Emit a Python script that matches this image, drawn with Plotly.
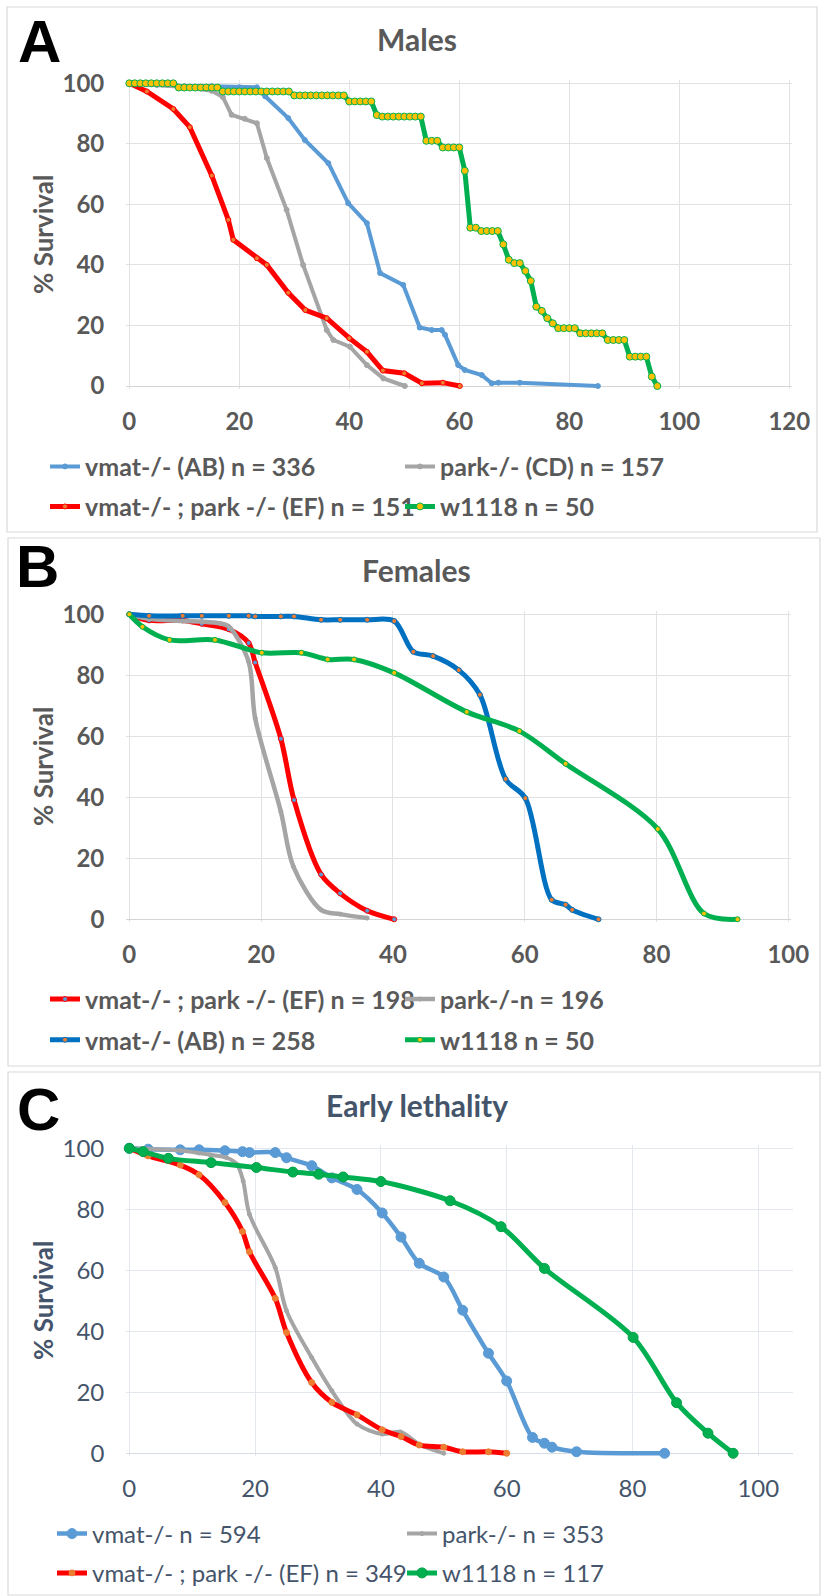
import plotly.graph_objects as go

W, H = 824, 1596
PAD = 3.0

# ---------------- tick labels ----------------
A_XTICKS = [0, 20, 40, 60, 80, 100, 120]
B_XTICKS = [0, 20, 40, 60, 80, 100]
C_XTICKS = [0, 20, 40, 60, 80, 100]
YTICKS = [0, 20, 40, 60, 80, 100]

# ---------------- panel A : Males ----------------
A_vmat_x = [0, 5, 10, 15, 20, 23.2, 24.7, 28.9, 31.9, 36.2, 39.8, 43.2, 45.6, 49.8, 52.8, 55.0, 56.8, 57.4, 59.8, 61.0, 64.1, 65.9, 67.1, 71.0, 85.2]
A_vmat_y = [100, 99.5, 99, 99, 98.7, 98.7, 95.7, 88.5, 81.3, 73.6, 60.4, 53.8, 37.3, 33.4, 19.3, 18.5, 18.5, 16.9, 6.9, 5.3, 3.6, 0.9, 1.1, 1.1, 0]

A_park_x = [0, 5, 10, 15, 17, 18.6, 21, 23.2, 25.0, 28.6, 31.6, 35.9, 37.1, 40.1, 43.2, 46.2, 50.1]
A_park_y = [100, 99.5, 98.8, 97.5, 95.5, 89.6, 88.3, 86.8, 75.3, 58.2, 40.0, 18.5, 15.2, 13.0, 6.9, 2.5, 0]

A_ef_x = [0, 3.2, 8.0, 11.0, 15.0, 18.0, 18.9, 23.2, 25.0, 28.9, 32.0, 35.9, 40.0, 43.2, 46.1, 50.0, 53.2, 57.0, 60.1]
A_ef_y = [100, 97.3, 91.5, 85.5, 69.5, 54.9, 48.3, 42.2, 40.0, 30.8, 25.1, 22.4, 15.8, 11.3, 5.1, 4.2, 0.9, 1.1, 0]

A_w_x = [0, 1, 2, 3, 4, 5, 6, 7, 8, 9, 10, 11, 12, 13, 14, 15, 16, 17, 18, 19,
         20, 21, 22, 23, 24, 25, 26, 27, 28, 29, 30, 31, 32, 33, 34, 35, 36, 37, 38, 39,
         40, 41, 42, 43, 44, 45, 46, 47, 48, 49, 50, 51, 52, 53, 54, 55, 56, 57, 58, 59,
         60, 61, 62, 63, 64, 65, 66, 67, 68, 69, 70, 71, 72, 73, 74, 75, 76, 77, 78, 79,
         80, 81, 82, 83, 84, 85, 86, 87, 88, 89, 90, 91, 92, 93, 94, 95, 96]
A_w_y = [100, 100, 100, 100, 100, 100, 100, 100, 100,
         98.6, 98.6, 98.6, 98.6, 98.6, 98.6, 98.6, 98.6,
         97.3, 97.3, 97.3, 97.3, 97.3, 97.3, 97.3, 97.3, 97.3, 97.3, 97.3, 97.3, 97.3,
         96.0, 96.0, 96.0, 96.0, 96.0, 96.0, 96.0, 96.0, 96.0, 96.0,
         94.0, 94.0, 94.0, 94.0, 94.0,
         89.5,
         89.0, 89.0, 89.0, 89.0, 89.0, 89.0, 89.0, 89.0,
         81.0, 81.0, 81.0,
         78.8, 78.8, 78.8, 78.8,
         71.1,
         52.3, 52.3,
         51.2, 51.2, 51.2, 51.2,
         46.8, 41.7, 40.6, 40.6, 38.0, 34.7, 26.2, 24.8, 22.4, 20.7,
         19.1, 19.1, 19.1, 19.1,
         17.4, 17.4, 17.4, 17.4, 17.4,
         15.2, 15.2, 15.2, 15.2,
         9.7, 9.7, 9.7, 9.7,
         3.1, 0]

# ---------------- panel B : Females ----------------
B_ef_x = [0, 3.0, 8.1, 11.0, 15.1, 18.1, 19.1, 23.0, 25.0, 29.1, 32.0, 36.1, 40.2]
B_ef_y = [100, 98.0, 98.0, 96.9, 95.1, 90.6, 84.2, 59.2, 39.1, 14.7, 8.5, 2.8, 0]

B_park_x = [0, 3.0, 8.1, 11.0, 13.8, 15.1, 18.1, 19.1, 23.0, 24.9, 29.1, 32.0, 36.1]
B_park_y = [100, 98.5, 97.8, 97.6, 97.0, 96.0, 84.5, 65.9, 35.3, 17.3, 3.1, 1.7, 0.4]

B_vmat_x = [0, 3.0, 8.1, 11.0, 15.1, 18.1, 19.1, 23.0, 25.0, 29.1, 32.0, 36.1, 40.2, 43.1, 46.1, 50.0, 53.2, 57.1, 60.1, 64.1, 66.2, 67.2, 71.2]
B_vmat_y = [100, 99.5, 99.5, 99.5, 99.5, 99.5, 99.3, 99.3, 99.3, 98.2, 98.2, 98.2, 97.8, 87.7, 86.3, 81.7, 73.6, 46.0, 39.7, 6.4, 4.8, 3.1, 0]

B_w_x = [0, 2.0, 6.1, 13.0, 20.1, 26.1, 30.1, 34.1, 40.2, 51.2, 59.2, 66.2, 80.2, 87.2, 92.3]
B_w_y = [100, 95.9, 91.6, 91.6, 87.4, 87.4, 85.2, 85.2, 80.8, 68.0, 61.7, 51.0, 29.6, 1.9, 0]

# ---------------- panel C : Early lethality ----------------
C_vmat_x = [0, 3.0, 8.1, 11.1, 15.2, 18.0, 19.1, 23.2, 25.0, 29.0, 32.2, 36.2, 40.2, 43.2, 46.1, 50.0, 53.0, 57.1, 60.0, 64.1, 66.0, 67.2, 71.1, 85.1]
C_vmat_y = [100, 99.7, 99.5, 99.5, 99.2, 98.9, 98.6, 98.6, 96.9, 94.3, 90.3, 86.5, 78.8, 70.9, 62.3, 57.8, 46.9, 32.8, 23.7, 5.2, 3.3, 2.0, 0.5, 0]

C_park_x = [0, 3.0, 8.1, 12.8, 15.5, 17.1, 18.1, 19.1, 23.2, 25.0, 29.0, 32.2, 36.2, 40.2, 43.1, 46.3, 50.0]
C_park_y = [100, 99.8, 99.3, 97.9, 96.9, 94.8, 89.3, 78.4, 60.9, 46.7, 31.4, 20.5, 9.6, 6.3, 7.0, 2.7, 0]

C_ef_x = [0, 3.0, 8.1, 11.1, 15.2, 18.0, 19.1, 23.2, 25.0, 29.0, 32.2, 36.2, 40.2, 43.2, 46.1, 50.0, 53.0, 57.1, 60.0]
C_ef_y = [100, 97.5, 94.5, 91.3, 82.2, 72.7, 66.1, 50.8, 39.6, 23.2, 16.7, 12.6, 7.7, 5.5, 2.7, 2.0, 0.5, 0.5, 0]

C_w_x = [0, 2.2, 6.2, 13.0, 20.2, 26.0, 30.1, 34.0, 40.0, 51.0, 59.1, 66.0, 80.1, 87.0, 92.0, 96.0]
C_w_y = [100, 98.9, 96.7, 95.3, 93.7, 92.2, 91.5, 90.6, 89.1, 82.8, 74.3, 60.6, 38.0, 16.6, 6.6, 0]

# ---------------- styling ----------------
GREY_TXT = "#595959"
SLATE_TXT = "#44546A"
FONT = "Lato"

# pixel geometry: x0 = px of x=0, sx = px per unit, xr = range max, y0 = px of y=0, y100 = px of y=100
GEOM = {
    "A": dict(x0=129.3, sx=5.5, xr=120, y0=386.0, y100=83.3),
    "B": dict(x0=129.3, sx=6.59, xr=100, y0=919.3, y100=614.3),
    "C": dict(x0=129.3, sx=6.29, xr=105, y0=1453.3, y100=1148.3),
}
PANEL_STYLE = {
    "A": dict(txt=GREY_TXT, weight="bold", grid="#E2E2E2", zero="#D4D4D4", ticks=A_XTICKS, lsize=25),
    "B": dict(txt=GREY_TXT, weight="bold", grid="#E2E2E2", zero="#D4D4D4", ticks=B_XTICKS, lsize=25),
    "C": dict(txt=SLATE_TXT, weight="normal", grid="#E3E8EF", zero="#D6DCE5", ticks=C_XTICKS, lsize=24),
}


def fx(px):
    return px / W


def fy(py):
    return 1 - py / H


fig = go.Figure()
layout_axes = {}
for i, key in enumerate("ABC"):
    g = GEOM[key]
    st = PANEL_STYLE[key]
    sy = (g["y0"] - g["y100"]) / 100.0
    xname = "xaxis" if i == 0 else f"xaxis{i + 1}"
    yname = "yaxis" if i == 0 else f"yaxis{i + 1}"
    anchor_x = "x" if i == 0 else f"x{i + 1}"
    anchor_y = "y" if i == 0 else f"y{i + 1}"
    tickfont = dict(family=FONT, size=24, color=st["txt"], weight=st["weight"])
    layout_axes[xname] = dict(
        domain=[(g["x0"] - PAD) / W, (g["x0"] + g["xr"] * g["sx"] + PAD) / W],
        range=[-PAD / g["sx"], g["xr"] + PAD / g["sx"]],
        anchor=anchor_y, tickvals=st["ticks"], ticktext=[str(t) for t in st["ticks"]],
        showgrid=True, gridcolor=st["grid"], gridwidth=1, zeroline=False,
        showline=False, ticks="", tickfont=tickfont, ticklabelstandoff=16,
        fixedrange=True, automargin=False,
    )
    layout_axes[yname] = dict(
        domain=[1 - (g["y0"] + PAD) / H, 1 - (g["y100"] - PAD) / H],
        range=[-PAD / sy, 100 + PAD / sy],
        anchor=anchor_x, tickvals=YTICKS, ticktext=[str(t) for t in YTICKS],
        showgrid=True, gridcolor=st["grid"], gridwidth=1,
        zeroline=True, zerolinecolor=st["zero"], zerolinewidth=1.2,
        showline=False, ticks="", tickfont=tickfont, ticklabelstandoff=21,
        fixedrange=True, automargin=False,
    )

# (panel, name, x-data, y-data, line color, line width, marker color, marker size,
#  marker outline color, shape, legend box px x, legend row px y)
SERIES = [
    ("A", "vmat-/- (AB) n = 336", A_vmat_x, A_vmat_y, "#5B9BD5", 4, "#5B9BD5", 5, "#5B9BD5", "linear", 45, 466.7),
    ("A", "park-/- (CD) n = 157", A_park_x, A_park_y, "#A5A5A5", 4, "#A5A5A5", 5, "#A5A5A5", "linear", 400, 466.7),
    ("A", "vmat-/- ; park -/- (EF) n = 151", A_ef_x, A_ef_y, "#FF0000", 5, "#ED7D31", 5, "#FF0000", "linear", 45, 506.7),
    ("A", "w1118 n = 50", A_w_x, A_w_y, "#00B050", 5, "#FFC000", 7, "#00B050", "linear", 400, 506.7),
    ("B", "vmat-/- ; park -/- (EF) n = 198", B_ef_x, B_ef_y, "#FF0000", 5, "#5B9BD5", 5, "#FF0000", "spline", 45, 999.3),
    ("B", "park-/-n = 196", B_park_x, B_park_y, "#A5A5A5", 4.5, "#A5A5A5", 4, "#A5A5A5", "spline", 400, 999.3),
    ("B", "vmat-/- (AB) n = 258", B_vmat_x, B_vmat_y, "#0070C0", 5, "#ED7D31", 5, "#0070C0", "spline", 45, 1040.0),
    ("B", "w1118 n = 50", B_w_x, B_w_y, "#00B050", 5, "#FFC000", 5, "#00B050", "spline", 400, 1040.0),
    ("C", "vmat-/- n = 594", C_vmat_x, C_vmat_y, "#5B9BD5", 4.5, "#5B9BD5", 10, "#5B9BD5", "spline", 52, 1534.0),
    ("C", "park-/- n = 353", C_park_x, C_park_y, "#A5A5A5", 4, "#A5A5A5", 4, "#A5A5A5", "spline", 402, 1534.0),
    ("C", "vmat-/- ; park -/- (EF) n = 349", C_ef_x, C_ef_y, "#FF0000", 5, "#ED7D31", 6, "#ED7D31", "spline", 52, 1573.3),
    ("C", "w1118 n = 117", C_w_x, C_w_y, "#00B050", 5, "#00B050", 10, "#00A046", "spline", 402, 1573.3),
]

legends = {}
for k, (panel, name, xs, ys, lc, lw, mc, ms, mlc, shape, lgx, lgy) in enumerate(SERIES):
    i = "ABC".index(panel)
    lname = "legend" if k == 0 else f"legend{k + 1}"
    st = PANEL_STYLE[panel]
    line = dict(color=lc, width=lw, shape=shape)
    if shape == "spline":
        line["smoothing"] = 0.9
    fig.add_trace(go.Scatter(
        x=xs, y=ys, name=name, mode="lines+markers",
        line=line,
        marker=dict(color=mc, size=ms, line=dict(color=mlc, width=1)),
        xaxis="x" if i == 0 else f"x{i + 1}",
        yaxis="y" if i == 0 else f"y{i + 1}",
        cliponaxis=False, legend=lname, showlegend=True,
    ))
    legends[lname] = dict(
        x=fx(lgx), y=fy(lgy), xanchor="left", yanchor="middle",
        orientation="h", bgcolor="rgba(0,0,0,0)", borderwidth=0,
        font=dict(family=FONT, size=st["lsize"], color=st["txt"], weight=st["weight"]),
        itemclick=False, itemdoubleclick=False,
    )

# panel frames
shapes = []
for (x0, y0, x1, y1) in [(7, 7, 817, 532), (8, 538, 820, 1066), (8, 1072, 820, 1595)]:
    shapes.append(dict(type="rect", xref="paper", yref="paper",
                       x0=fx(x0), x1=fx(x1), y0=fy(y1), y1=fy(y0),
                       line=dict(color="#D9D9D9", width=1.2), fillcolor="rgba(0,0,0,0)", layer="below"))

annotations = []
# panel letters
for letter, cx, cy in [("A", 39, 41.5), ("B", 37, 566.5), ("C", 38, 1109)]:
    annotations.append(dict(text=letter, x=fx(cx), y=fy(cy), xref="paper", yref="paper",
                            xanchor="center", yanchor="middle", showarrow=False,
                            font=dict(family="Liberation Sans", size=60, color="#000000", weight="bold")))
# titles
for title, cy, col in [("Males", 39, GREY_TXT), ("Females", 570, GREY_TXT), ("Early lethality", 1105, SLATE_TXT)]:
    annotations.append(dict(text=title, x=fx(416.5), y=fy(cy), xref="paper", yref="paper",
                            xanchor="center", yanchor="middle", showarrow=False,
                            font=dict(family=FONT, size=30, color=col, weight="bold")))
# y-axis titles
for cy, col in [(235, GREY_TXT), (767, GREY_TXT), (1301, SLATE_TXT)]:
    annotations.append(dict(text="% Survival", x=fx(43), y=fy(cy), xref="paper", yref="paper",
                            xanchor="center", yanchor="middle", showarrow=False, textangle=-90,
                            font=dict(family=FONT, size=26, color=col, weight="bold")))

fig.update_layout(
    width=W, height=H, margin=dict(l=0, r=0, t=0, b=0, autoexpand=False),
    paper_bgcolor="white", plot_bgcolor="white",
    shapes=shapes, annotations=annotations,
    **layout_axes, **legends,
)

fig.write_html("out.html", config={"displayModeBar": False},
               post_script="document.body.style.margin='0';")
